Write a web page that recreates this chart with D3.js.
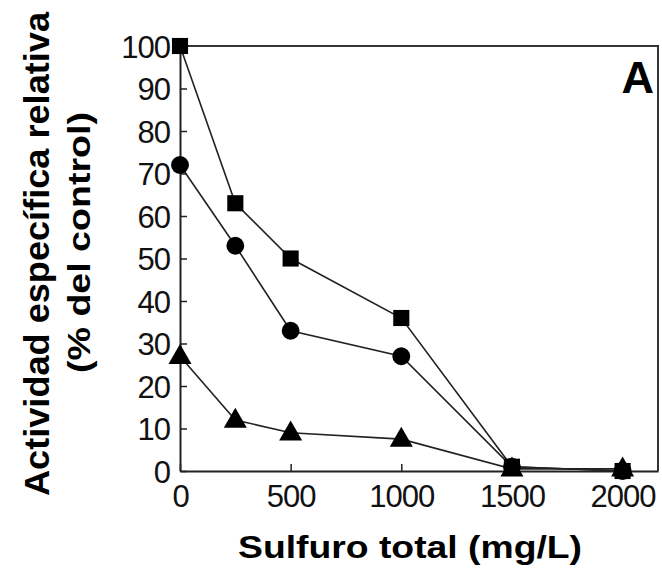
<!DOCTYPE html>
<html>
<head>
<meta charset="utf-8">
<script src="https://cdn.jsdelivr.net/npm/d3@7"></script>
<style>
body { margin: 0; background: #fff; }
text { font-family: "Liberation Sans", Arial, sans-serif; }
</style>
</head>
<body>
<svg id="chart" width="662" height="571"></svg>
<script>
// sulfide concentration (mg/L)
var sulfuro = [0, 250, 500, 1000, 1500, 2000];
var cuadrados = [100, 63, 50, 36, 1, 0];
var circulos = [72, 53, 33, 27, 1, 0];
var triangulos = [27, 12, 9, 7.5, 0.5, 0.5];
var xTicks = [0, 500, 1000, 1500, 2000];
var yTicks = [0, 10, 20, 30, 40, 50, 60, 70, 80, 90, 100];

var svg = d3.select("#chart");
var margin = {top: 46, right: 4, bottom: 100, left: 180};
var width = +svg.attr("width") - margin.left - margin.right;
var height = +svg.attr("height") - margin.top - margin.bottom;

var x = d3.scaleLinear().domain([0, 2160]).range([0, width]);
var y = d3.scaleLinear().domain([0, 100]).range([height, 0]);

var g = svg.append("g")
	.attr("transform", "translate(" + margin.left + "," + margin.top + ")");

// top and right frame
g.append("path")
	.attr("d", "M0,0H" + width + "V" + height)
	.attr("fill", "none")
	.attr("stroke", "#333")
	.attr("stroke-width", 2);

var xAxis = g.append("g")
	.attr("transform", "translate(0," + height + ")")
	.call(d3.axisBottom(x).tickValues(xTicks).tickFormat(d3.format("d"))
		.tickSizeInner(-7).tickSizeOuter(0).tickPadding(14));

var yAxis = g.append("g")
	.call(d3.axisLeft(y).tickValues(yTicks).tickSizeInner(-7).tickSizeOuter(0).tickPadding(10));

[xAxis, yAxis].forEach(function (a) {
	a.select(".domain").attr("stroke", "#222").attr("stroke-width", 2);
	a.selectAll(".tick line").attr("stroke", "#222").attr("stroke-width", 1.5);
	a.selectAll(".tick text")
		.attr("fill", "#111")
		.style("font-size", "31px")
		.style("letter-spacing", "-1px");
});
xAxis.selectAll(".tick text").attr("dy", "0.72em");
yAxis.selectAll(".tick text").attr("dy", "0.36em");

var line = d3.line()
	.x(function (d) { return x(d[0]); })
	.y(function (d) { return y(d[1]); });

function pairs(vals) {
	return sulfuro.map(function (s, i) { return [s, vals[i]]; });
}

var series = [
	{values: triangulos, symbol: d3.symbolTriangle, size: 230},
	{values: circulos, symbol: d3.symbolCircle, size: 250},
	{values: cuadrados, symbol: d3.symbolSquare, size: 260}
];

series.forEach(function (s) {
	g.append("path")
		.datum(pairs(s.values))
		.attr("fill", "none")
		.attr("stroke", "#222")
		.attr("stroke-width", 1.6)
		.attr("d", line);
});

series.forEach(function (s) {
	g.selectAll(null)
		.data(pairs(s.values))
		.enter().append("path")
		.attr("transform", function (d) {
			var dy = s.symbol === d3.symbolTriangle ? 1 : 0;
			return "translate(" + x(d[0]) + "," + (y(d[1]) + dy) + ")";
		})
		.attr("d", d3.symbol().type(s.symbol).size(s.size))
		.attr("fill", "#000");
});

// panel letter
g.append("text")
	.attr("x", width - 4)
	.attr("y", 47)
	.attr("text-anchor", "end")
	.style("font-size", "45px")
	.style("font-weight", "bold")
	.text("A");

// axis titles
svg.append("text")
	.attr("x", 238)
	.attr("y", 558)
	.attr("textLength", 344)
	.attr("lengthAdjust", "spacingAndGlyphs")
	.style("font-size", "32px")
	.style("font-weight", "bold")
	.text("Sulfuro total (mg/L)");

svg.append("text")
	.attr("transform", "translate(49,496) rotate(-90)")
	.attr("textLength", 484)
	.attr("lengthAdjust", "spacingAndGlyphs")
	.style("font-size", "35px")
	.style("font-weight", "bold")
	.text("Actividad específica relativa");

svg.append("text")
	.attr("transform", "translate(90,373) rotate(-90)")
	.attr("textLength", 261)
	.attr("lengthAdjust", "spacingAndGlyphs")
	.style("font-size", "31px")
	.style("font-weight", "bold")
	.text("(% del control)");
</script>
</body>
</html>
